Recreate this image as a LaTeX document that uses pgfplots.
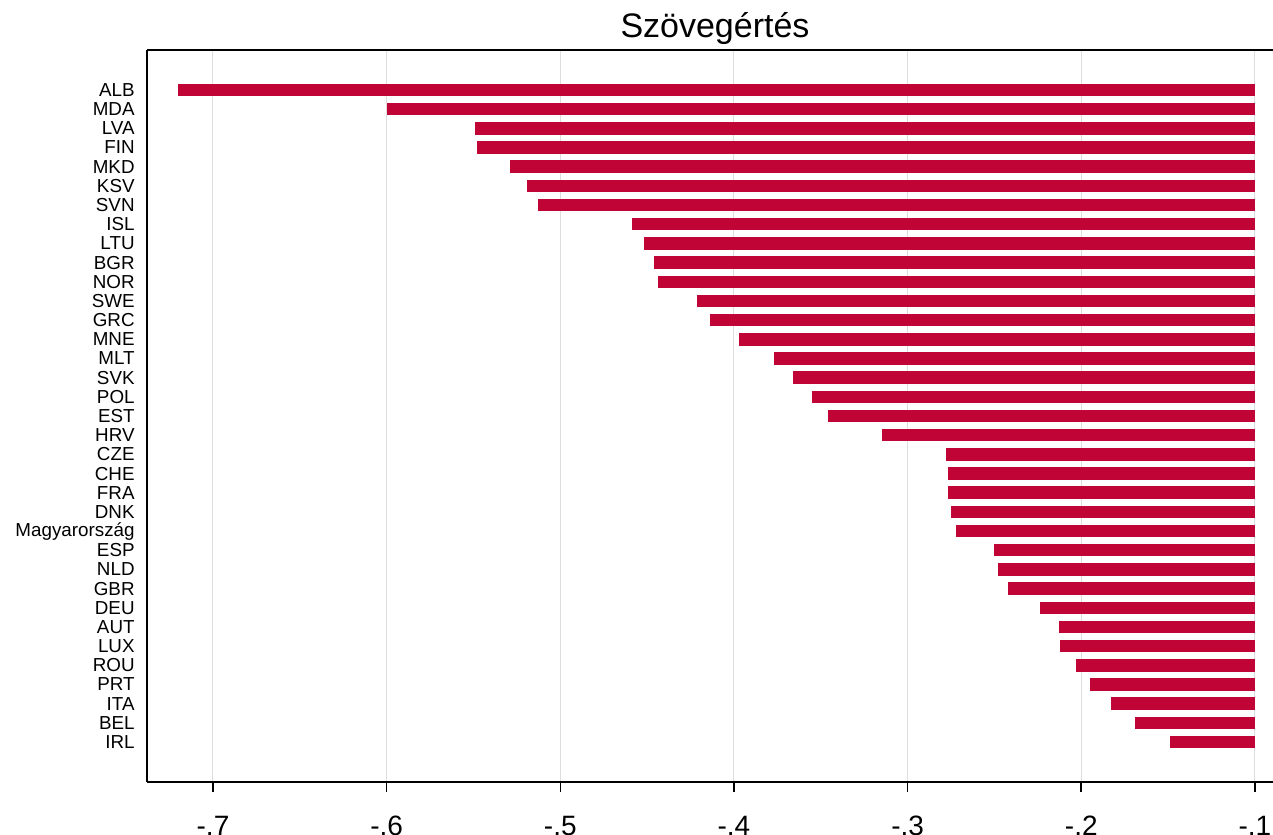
\documentclass[border=0pt]{standalone}
\usepackage{pgfplots}
\pgfplotsset{compat=1.18}
\usepackage{pgfplotstable}
\usepackage{fontspec}
\setmainfont{Liberation Sans}
\definecolor{barred}{RGB}{192,5,54}
\definecolor{gridgray}{RGB}{221,221,221}

% each bar: from -0.1 to its value, at its row position; nan rows separate the bars
\pgfplotstableread{
x y
-0.1 35
-0.720 35
nan nan
-0.1 34
-0.600 34
nan nan
-0.1 33
-0.549 33
nan nan
-0.1 32
-0.548 32
nan nan
-0.1 31
-0.529 31
nan nan
-0.1 30
-0.519 30
nan nan
-0.1 29
-0.513 29
nan nan
-0.1 28
-0.459 28
nan nan
-0.1 27
-0.452 27
nan nan
-0.1 26
-0.446 26
nan nan
-0.1 25
-0.444 25
nan nan
-0.1 24
-0.421 24
nan nan
-0.1 23
-0.414 23
nan nan
-0.1 22
-0.397 22
nan nan
-0.1 21
-0.377 21
nan nan
-0.1 20
-0.366 20
nan nan
-0.1 19
-0.355 19
nan nan
-0.1 18
-0.346 18
nan nan
-0.1 17
-0.315 17
nan nan
-0.1 16
-0.278 16
nan nan
-0.1 15
-0.277 15
nan nan
-0.1 14
-0.277 14
nan nan
-0.1 13
-0.275 13
nan nan
-0.1 12
-0.272 12
nan nan
-0.1 11
-0.250 11
nan nan
-0.1 10
-0.248 10
nan nan
-0.1 9
-0.242 9
nan nan
-0.1 8
-0.224 8
nan nan
-0.1 7
-0.213 7
nan nan
-0.1 6
-0.212 6
nan nan
-0.1 5
-0.203 5
nan nan
-0.1 4
-0.195 4
nan nan
-0.1 3
-0.183 3
nan nan
-0.1 2
-0.169 2
nan nan
-0.1 1
-0.149 1
}\bars

\begin{document}
\begin{tikzpicture}
\begin{axis}[
  name=ax,
  scale only axis,
  width=563pt, height=366pt,
  xmin=-0.738, xmax=-0.0896,
  ymin=-1.086, ymax=37.086,
  axis lines*=left,
  axis line style={line width=1pt, black},
  xtick={-0.7,-0.6,-0.5,-0.4,-0.3,-0.2,-0.1},
  xticklabels={-.7,-.6,-.5,-.4,-.3,-.2,-.1},
  x tick label style={font=\fontsize{14}{16}\selectfont, anchor=north, inner sep=0pt, yshift=-12pt},
  xtick style={black, line width=0.8pt},
  tick align=outside,
  major tick length=5pt,
  xmajorgrids,
  major grid style={gridgray, line width=0.5pt},
  ytick={1,...,35},
  yticklabels={IRL,BEL,ITA,PRT,ROU,LUX,AUT,DEU,GBR,NLD,ESP,Magyarország,DNK,FRA,CHE,CZE,HRV,EST,POL,SVK,MLT,MNE,GRC,SWE,NOR,BGR,LTU,ISL,SVN,KSV,MKD,FIN,LVA,MDA,ALB},
  y tick label style={font=\fontsize{9.4}{11}\selectfont, anchor=east, inner sep=0pt, xshift=-1pt},
  ytick style={draw=none},
  unbounded coords=jump,
  title={Szövegértés},
  title style={font=\fontsize{17}{20}\selectfont, at={(0.5,1)}, anchor=base, yshift=0pt, xshift=2.5pt},
  extra description/.code={\draw[line width=1pt, black] (rel axis cs:0,1) -- (rel axis cs:1,1);},
  clip=false,
]
\addplot[draw=barred, line width=6.25pt, mark=none] table[x=x, y=y] {\bars};
\end{axis}
\pgfresetboundingbox
\path ([xshift=-73.5pt,yshift=-26pt]ax.south west) rectangle ([yshift=25pt]ax.north east);
\end{tikzpicture}
\end{document}
